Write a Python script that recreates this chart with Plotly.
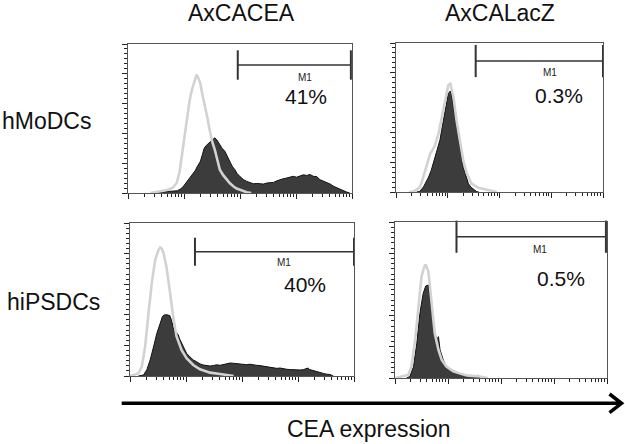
import plotly.graph_objects as go

# ---------------- data (x in log10 decades of fluorescence, y in % of panel max) -------------
COLUMNS = ["AxCACEA", "AxCALacZ"]
ROWS = ["hMoDCs", "hiPSDCs"]

# Panel 1: hMoDCs / AxCACEA
P1_CTRL_D = [0.40,0.48,0.60,0.70,0.80,0.87,0.92,0.96,1.00,1.05,1.10,1.14,1.18,1.20,1.22,1.24,1.26,1.29,1.33,1.38,1.42,1.46,1.50,1.55,1.60,1.64,1.70,1.76,1.82,1.88,1.94,2.00,2.06,2.12,2.20]
P1_CTRL_Y = [0,0.5,1.0,2.0,3.5,6.7,14,24.5,36,51,62,69,75,78,79,78.6,77,73.7,66,58,50,42,35,29,22,15.6,12,9,6.5,4.5,3,2.2,1.2,0.5,0]
P1_CEA_D = [0.50,0.60,0.70,0.80,0.88,0.93,0.98,1.02,1.06,1.11,1.15,1.20,1.24,1.29,1.33,1.36,1.40,1.43,1.46,1.50,1.53,1.55,1.58,1.61,1.64,1.68,1.73,1.77,1.82,1.86,1.91,1.95,2.00,2.06,2.12,2.18,2.24,2.30,2.36,2.42,2.48,2.54,2.60,2.66,2.71,2.77,2.83,2.89,2.95,3.01,3.07,3.13,3.19,3.25,3.31,3.37,3.43,3.49,3.55,3.61,3.67,3.73,3.79,3.85,3.90,3.96]
P1_CEA_Y = [0.4,0.6,0.8,1.0,1.5,2.5,4.0,6.0,8.0,10,12,15,18,21,26,30,32,33,33.5,35,36.5,37,36,34,32,30,28,25,21,18,15.6,13,11,9,7.8,6.8,6.2,6.4,6.2,6.0,6.7,6.9,7.1,8.2,8.9,9.5,10,10.8,11.2,10.6,11.6,12.2,11.8,12.4,11.2,11.0,8.9,8.0,7.1,6.0,4.5,3.5,2.2,1.4,0.7,0]

# Panel 2: hiPSDCs / AxCACEA
P2_CTRL_D = [0.00,0.03,0.09,0.15,0.21,0.27,0.33,0.39,0.45,0.51,0.54,0.57,0.60,0.65,0.71,0.77,0.83,0.92,1.01,1.13,1.25,1.43,1.61,1.73,1.85]
P2_CTRL_Y = [0,0.3,0.8,1.7,6,19,41,61,76,82.5,84,83,80,71.6,56,39,26,17,11.6,7.2,4.4,2.2,1.3,0.6,0]
P2_CEA_D = [0.15,0.24,0.30,0.36,0.42,0.48,0.54,0.58,0.62,0.66,0.71,0.74,0.77,0.80,0.83,0.86,0.89,0.92,0.96,1.01,1.07,1.13,1.19,1.25,1.31,1.37,1.43,1.49,1.55,1.61,1.67,1.73,1.79,1.85,1.91,1.96,2.02,2.08,2.14,2.20,2.26,2.32,2.38,2.44,2.50,2.56,2.62,2.68,2.74,2.80,2.86,2.92,2.98,3.04,3.10,3.15,3.18,3.21,3.27,3.33,3.39,3.45,3.51,3.57,3.63]
P2_CEA_Y = [0,0.6,4,10.5,19,28,34.5,39,40,40,39.5,36.7,32,28,28.5,27,24,21.4,18,14.8,12.5,10.5,9.3,7.9,7.2,6.8,6.5,6.9,7.3,7.0,7.6,7.9,8.5,8.3,8.0,7.9,7.6,7.4,7.7,7.2,7.0,6.8,6.5,6.1,5.9,5.4,5.0,5.2,4.6,4.4,4.2,4.0,4.1,3.9,4.2,5.0,5.2,4.2,3.5,2.8,2.2,1.7,1.2,1.0,0]

# Panel 3: hMoDCs / AxCALacZ
P3_CTRL_D = [0.25,0.34,0.40,0.46,0.51,0.56,0.61,0.66,0.71,0.75,0.82,0.88,0.95,1.01,1.05,1.08,1.11,1.17,1.24,1.30,1.37,1.46,1.59,1.75,1.88,1.95]
P3_CTRL_Y = [0,0.4,1.5,3.4,8,14.5,20,25.7,28.5,31,39,50,61.5,71.6,72.7,69,63.8,48,32,21,12.3,5.6,2.9,1.6,0.4,0]
P3_CEA_D = [0.40,0.46,0.53,0.58,0.63,0.68,0.72,0.77,0.82,0.85,0.88,0.92,0.95,0.98,1.01,1.03,1.05,1.07,1.08,1.11,1.14,1.18,1.21,1.24,1.27,1.30,1.34,1.37,1.40,1.45,1.50,1.56,1.60]
P3_CEA_Y = [0,0.4,3.4,6.5,10,14.5,19,24.5,30,35,41,48,55,61,66,67,67.8,66,63.8,57,50,42,34.7,28,21,16.5,12.3,8.5,5.6,3.2,1.6,0.2,0]

# Panel 4: hiPSDCs / AxCALacZ
P4_CTRL_D = [0.00,0.09,0.18,0.25,0.31,0.38,0.44,0.50,0.55,0.58,0.63,0.66,0.71,0.75,0.82,0.88,0.97,1.10,1.23,1.35,1.60,1.75]
P4_CTRL_Y = [0,1.0,1.5,2,7.4,24.5,45.7,65,71,72.8,68,58.5,41.5,28.7,18,11.7,7.4,4.3,2.8,1.7,1.0,0]
P4_CEA_D = [0.22,0.28,0.35,0.41,0.47,0.53,0.58,0.61,0.63,0.66,0.71,0.75,0.78,0.80,0.82,0.85,0.91,0.97,1.07,1.19,1.29,1.38,1.48,1.53,1.57,1.60]
P4_CEA_Y = [0,1.0,7.4,22,41.5,54,59,59.6,59.6,52,37,28.7,26,25.5,26.5,18,11.7,7.4,5.3,3.2,1.7,1.0,1.4,1.7,1.7,0]

# M1 gates (decades) and percentages
GATE_LO = [1.96, 1.16, 1.54, 1.16]
GATE_HI = [3.98, 4.00, 4.00, 3.98]
GATE_Y = [85.9, 81.2, 87.9, 90.6]
PERCENT = ["41%", "40%", "0.3%", "0.5%"]
X_LABEL = "CEA expression"

# ---------------- layout constants ----------------
W, H = 625, 444
FONT = "Liberation Sans, Arial, Helvetica, sans-serif"

def px(x):
    return x / W

def py(y):
    return 1 - y / H

# panel pixel boxes: (left, right, top, bottom)
BOXES = [(128, 352, 44, 193), (130, 354, 223, 376), (396, 603, 43, 192), (395, 607, 222, 378)]
CURVES = [
    (P1_CTRL_D, P1_CTRL_Y, P1_CEA_D, P1_CEA_Y),
    (P2_CTRL_D, P2_CTRL_Y, P2_CEA_D, P2_CEA_Y),
    (P3_CTRL_D, P3_CTRL_Y, P3_CEA_D, P3_CEA_Y),
    (P4_CTRL_D, P4_CTRL_Y, P4_CEA_D, P4_CEA_Y),
]
CAP_SIZE = [21, 20, 23, 23]
M1_POS = [(304.7, 78), (284.3, 262), (550, 72), (540, 249)]
PCT_POS = [(306.3, 96.7), (305, 284), (559, 95.4), (560.7, 278.7)]

fig = go.Figure()
layout_axes = {}
annotations = []

major_x = [10 ** k for k in range(0, 5)]
minor_x = [m * 10 ** k for k in range(0, 4) for m in range(2, 10)]

for i, (box, curves) in enumerate(zip(BOXES, CURVES)):
    n = "" if i == 0 else str(i + 1)
    xa, ya = "x" + n, "y" + n
    cd, cy, ed, ey = curves
    fig.add_trace(go.Scatter(
        x=[10 ** d for d in ed], y=ey, xaxis=xa, yaxis=ya, mode="lines",
        line=dict(color="#111111", width=1), fill="tozeroy", fillcolor="#3c3c3c",
        hoverinfo="skip"))
    fig.add_trace(go.Scatter(
        x=[10 ** d for d in cd], y=cy, xaxis=xa, yaxis=ya, mode="lines",
        line=dict(color="#d2d2d2", width=2.6), hoverinfo="skip"))
    # M1 gate
    fig.add_trace(go.Scatter(
        x=[10 ** GATE_LO[i], 10 ** GATE_HI[i]], y=[GATE_Y[i], GATE_Y[i]],
        xaxis=xa, yaxis=ya, mode="lines+markers", cliponaxis=False,
        line=dict(color="#333333", width=1.5),
        marker=dict(symbol="line-ns", size=CAP_SIZE[i], line=dict(color="#333333", width=2)),
        hoverinfo="skip"))
    l, r, t, b = box
    layout_axes["xaxis" + n] = dict(
        domain=[px(l), px(r)], anchor=ya, type="log", range=[0, 4],
        showgrid=False, zeroline=False, showline=True, mirror=True,
        linecolor="#555555", linewidth=1, ticks="outside", tickvals=major_x,
        ticklen=5, tickwidth=1, tickcolor="#222222", showticklabels=False,
        minor=dict(tickmode="array", tickvals=minor_x, ticks="outside", ticklen=3,
                   tickwidth=1, tickcolor="#222222"))
    layout_axes["yaxis" + n] = dict(
        domain=[py(b), py(t)], anchor=xa, range=[0, 100],
        showgrid=False, zeroline=False, showline=True, mirror=True,
        linecolor="#555555", linewidth=1, ticks="outside", dtick=20, tick0=0,
        ticklen=5, tickwidth=1, tickcolor="#222222", showticklabels=False,
        minor=dict(dtick=20 / 6, tick0=0, ticks="outside", ticklen=3,
                   tickwidth=1, tickcolor="#222222"))
    mx, my = M1_POS[i]
    annotations.append(dict(x=px(mx), y=py(my), xref="paper", yref="paper", text="M1",
                            showarrow=False, xanchor="center", yanchor="middle",
                            font=dict(family=FONT, size=10, color="#222222")))
    tx, ty = PCT_POS[i]
    annotations.append(dict(x=px(tx), y=py(ty), xref="paper", yref="paper", text=PERCENT[i],
                            showarrow=False, xanchor="center", yanchor="middle",
                            font=dict(family=FONT, size=21, color="#111111")))

# column titles and row labels
for txt, (x, y) in zip(COLUMNS, [(241, 13), (500, 13)]):
    annotations.append(dict(x=px(x), y=py(y), xref="paper", yref="paper", text=txt,
                            showarrow=False, xanchor="center", yanchor="middle",
                            font=dict(family=FONT, size=23, color="#111111")))
for txt, (x, y) in zip(ROWS, [(46, 121), (53, 302)]):
    annotations.append(dict(x=px(x), y=py(y), xref="paper", yref="paper", text=txt,
                            showarrow=False, xanchor="center", yanchor="middle",
                            font=dict(family=FONT, size=23, color="#111111")))
annotations.append(dict(x=px(369), y=py(429), xref="paper", yref="paper", text=X_LABEL,
                        showarrow=False, xanchor="center", yanchor="middle",
                        font=dict(family=FONT, size=23, color="#111111")))

# axis arrow
arrow_y = py(403.3)
path = (f"M {px(121.7)} {arrow_y} L {px(620.5)} {arrow_y} "
        f"M {px(609.5)} {py(394)} L {px(621.5)} {arrow_y} L {px(609.5)} {py(412.6)}")
shapes = [dict(type="path", xref="paper", yref="paper", path=path,
               line=dict(color="#000000", width=3.5))]

fig.update_layout(
    width=W, height=H, margin=dict(l=0, r=0, t=0, b=0),
    paper_bgcolor="white", plot_bgcolor="white", showlegend=False,
    annotations=annotations, shapes=shapes, **layout_axes)

fig.write_html(
    "out.html",
    config={"displayModeBar": False, "staticPlot": True},
    post_script="document.body.style.margin='0px';document.body.style.overflow='hidden';")
